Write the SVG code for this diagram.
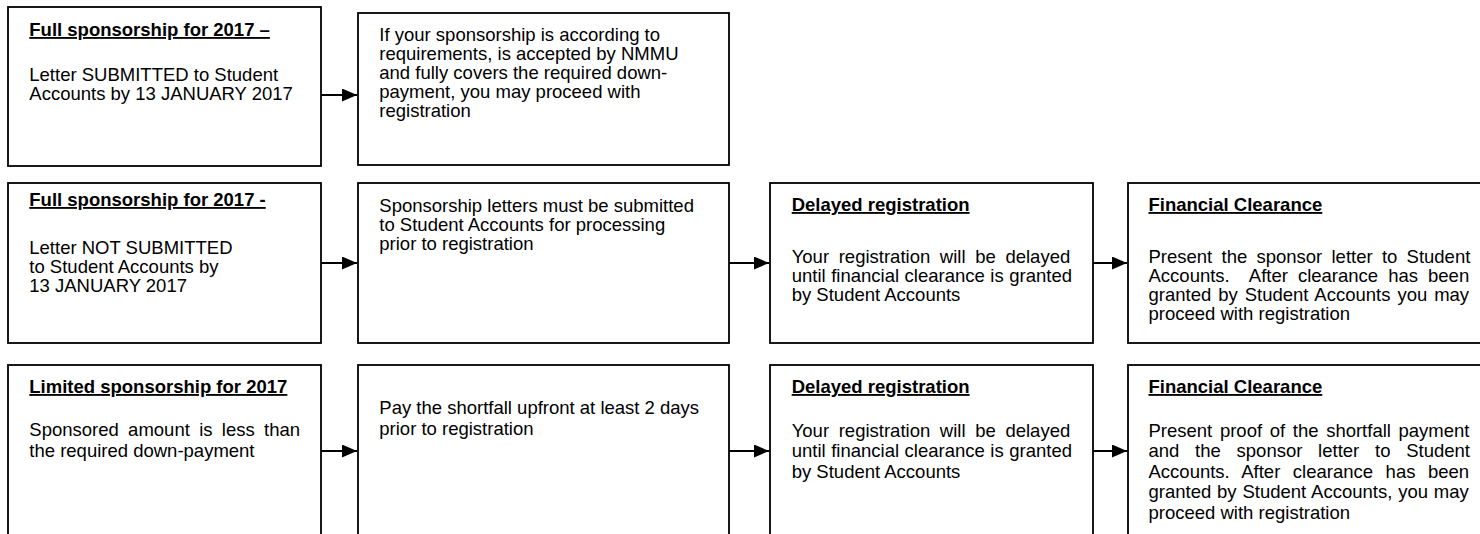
<svg xmlns="http://www.w3.org/2000/svg" width="1480" height="534" viewBox="0 0 1480 534">
<style>
.box{fill:#fff;stroke:#000;stroke-width:1.8}
.t{font-family:"Liberation Sans",Arial,sans-serif;font-size:18.5px;fill:#000}
.h{font-weight:bold;text-decoration:underline}
.c{stroke:#000;stroke-width:2;fill:none}
</style>
<defs>
<marker id="ah" markerUnits="userSpaceOnUse" markerWidth="16" markerHeight="14" refX="15" refY="6.5" orient="auto">
<path d="M0,0 L15,6.5 L0,13 z" fill="#000"/>
</marker>
</defs>
<rect width="1480" height="534" fill="#fff"/>

<g id="connectors">
<line class="c" x1="321" y1="95" x2="357" y2="95" marker-end="url(#ah)"/>
<line class="c" x1="321" y1="263" x2="357" y2="263" marker-end="url(#ah)"/>
<line class="c" x1="729" y1="263" x2="769" y2="263" marker-end="url(#ah)"/>
<line class="c" x1="1093" y1="263" x2="1127" y2="263" marker-end="url(#ah)"/>
<line class="c" x1="321" y1="451" x2="357" y2="451" marker-end="url(#ah)"/>
<line class="c" x1="729" y1="451" x2="769" y2="451" marker-end="url(#ah)"/>
<line class="c" x1="1093" y1="451" x2="1127" y2="451" marker-end="url(#ah)"/>
</g>

<g id="n1">
<rect class="box" x="8" y="7" width="313" height="159"/>
<text class="t h" x="29.3" y="36">Full sponsorship for 2017 –</text>
<text class="t" x="29.3" y="81">Letter SUBMITTED to Student</text>
<text class="t" x="29.3" y="100">Accounts by 13 JANUARY 2017</text>
</g>

<g id="n2">
<rect class="box" x="358" y="13" width="371" height="152"/>
<text class="t" x="379.3" y="41">If your sponsorship is according to</text>
<text class="t" x="379.3" y="60">requirements, is accepted by NMMU</text>
<text class="t" x="379.3" y="79">and fully covers the required down-</text>
<text class="t" x="379.3" y="98">payment, you may proceed with</text>
<text class="t" x="379.3" y="117">registration</text>
</g>

<g id="n3">
<rect class="box" x="8" y="183" width="313" height="160"/>
<text class="t h" x="29.3" y="206">Full sponsorship for 2017 -</text>
<text class="t" x="29.3" y="253.5">Letter NOT SUBMITTED</text>
<text class="t" x="29.3" y="272.5">to Student Accounts by</text>
<text class="t" x="29.3" y="291.5">13 JANUARY 2017</text>
</g>

<g id="n4">
<rect class="box" x="358" y="183" width="371" height="160"/>
<text class="t" x="379.3" y="211.5">Sponsorship letters must be submitted</text>
<text class="t" x="379.3" y="230.5">to Student Accounts for processing</text>
<text class="t" x="379.3" y="249.5">prior to registration</text>
</g>

<g id="n5">
<rect class="box" x="770" y="183" width="323" height="160"/>
<text class="t h" x="791.7" y="211">Delayed registration</text>
<text class="t" x="791.7" y="263" style="word-spacing:4.5px">Your registration will be delayed</text>
<text class="t" x="791.7" y="282" style="word-spacing:0.4px">until financial clearance is granted</text>
<text class="t" x="791.7" y="301">by Student Accounts</text>
</g>

<g id="n6">
<rect class="box" x="1128" y="183" width="362" height="160"/>
<text class="t h" x="1148.5" y="211">Financial Clearance</text>
<text class="t" x="1148.5" y="263" style="word-spacing:4.1px">Present the sponsor letter to Student</text>
<text class="t" x="1148.5" y="282" style="word-spacing:4.9px;white-space:pre" xml:space="preserve">Accounts.  After clearance has been</text>
<text class="t" x="1148.5" y="301" style="word-spacing:1.8px">granted by Student Accounts you may</text>
<text class="t" x="1148.5" y="320">proceed with registration</text>
</g>

<g id="n7">
<rect class="box" x="8" y="365" width="313" height="185"/>
<text class="t h" x="29.3" y="393">Limited sponsorship for 2017</text>
<text class="t" x="29.3" y="436" style="word-spacing:4.2px">Sponsored amount is less than</text>
<text class="t" x="29.3" y="456.5">the required down-payment</text>
</g>

<g id="n8">
<rect class="box" x="358" y="365" width="371" height="185"/>
<text class="t" x="379.3" y="414">Pay the shortfall upfront at least 2 days</text>
<text class="t" x="379.3" y="435">prior to registration</text>
</g>

<g id="n9">
<rect class="box" x="770" y="365" width="323" height="185"/>
<text class="t h" x="791.7" y="393">Delayed registration</text>
<text class="t" x="791.7" y="436.5" style="word-spacing:4.5px">Your registration will be delayed</text>
<text class="t" x="791.7" y="457" style="word-spacing:0.4px">until financial clearance is granted</text>
<text class="t" x="791.7" y="477.5">by Student Accounts</text>
</g>

<g id="n10">
<rect class="box" x="1128" y="365" width="362" height="185"/>
<text class="t h" x="1148.5" y="393">Financial Clearance</text>
<text class="t" x="1148.5" y="436.5" style="word-spacing:2.5px">Present proof of the shortfall payment</text>
<text class="t" x="1148.5" y="457" style="word-spacing:10.6px">and the sponsor letter to Student</text>
<text class="t" x="1148.5" y="477.5" style="word-spacing:7.4px">Accounts. After clearance has been</text>
<text class="t" x="1148.5" y="498" style="word-spacing:0.7px">granted by Student Accounts, you may</text>
<text class="t" x="1148.5" y="518.5">proceed with registration</text>
</g>
</svg>
